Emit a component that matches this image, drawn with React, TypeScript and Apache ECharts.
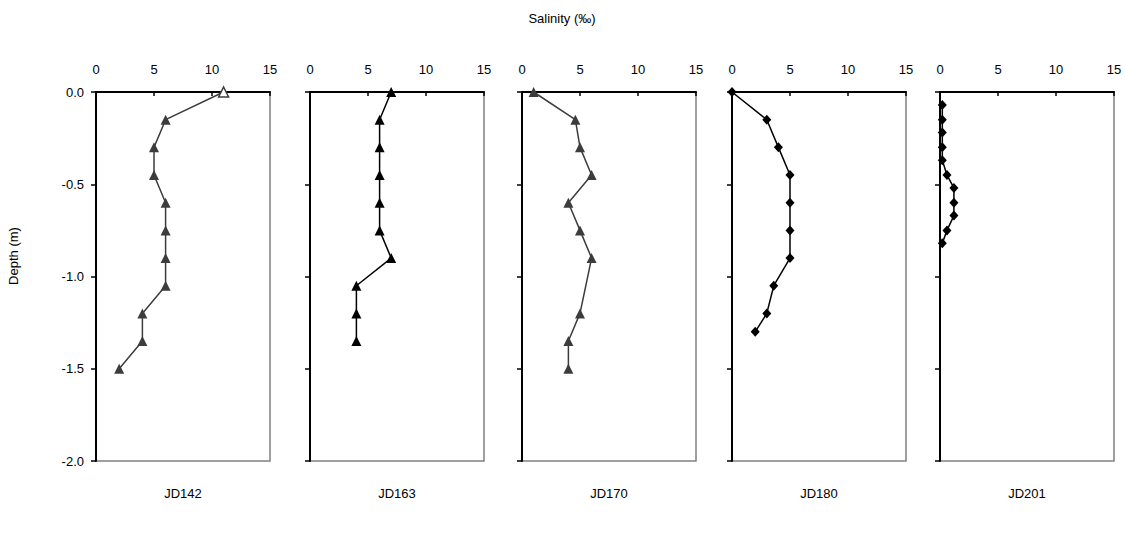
import React, { useEffect, useRef } from "react";
import * as echarts from "echarts";

// Sampling stations
const stations = ["JD142", "JD163", "JD170", "JD180", "JD201"];

// Depth (m, negative downward) and salinity (‰) for each profile
const depth142 = [0, -0.15, -0.3, -0.45, -0.6, -0.75, -0.9, -1.05, -1.2, -1.35, -1.5];
const sal142 = [11, 6, 5, 5, 6, 6, 6, 6, 4, 4, 2];

const depth163 = [0, -0.15, -0.3, -0.45, -0.6, -0.75, -0.9, -1.05, -1.2, -1.35];
const sal163 = [7, 6, 6, 6, 6, 6, 7, 4, 4, 4];

const depth170 = [0, -0.15, -0.3, -0.45, -0.6, -0.75, -0.9, -1.2, -1.35, -1.5];
const sal170 = [1, 4.6, 5, 6, 4, 5, 6, 5, 4, 4];

const depth180 = [0, -0.15, -0.3, -0.45, -0.6, -0.75, -0.9, -1.05, -1.2, -1.3];
const sal180 = [0, 3, 4, 5, 5, 5, 5, 3.6, 3, 2];

const depth201 = [-0.07, -0.15, -0.22, -0.3, -0.37, -0.45, -0.52, -0.6, -0.67, -0.75, -0.82];
const sal201 = [0.2, 0.2, 0.2, 0.2, 0.2, 0.6, 1.2, 1.2, 1.2, 0.6, 0.2];

const depthTicks = [0, -0.5, -1.0, -1.5, -2.0];
const salinityTicks = [0, 5, 10, 15];

const FONT = "'Liberation Sans', Arial, Helvetica, sans-serif";
const DARK = "#3c3c3c";
const BLACK = "#000000";

const pairs = (xs: number[], ys: number[]) => xs.map((x, i) => [x, ys[i]]);

const profiles = [
  { data: pairs(sal142, depth142), symbol: "triangle", color: DARK, size: 10, hollowFirst: true },
  { data: pairs(sal163, depth163), symbol: "triangle", color: BLACK, size: 10, hollowFirst: false },
  { data: pairs(sal170, depth170), symbol: "triangle", color: DARK, size: 10, hollowFirst: false },
  { data: pairs(sal180, depth180), symbol: "diamond", color: BLACK, size: [9, 10], hollowFirst: false },
  { data: pairs(sal201, depth201), symbol: "diamond", color: BLACK, size: [9, 10], hollowFirst: false },
];

const panelLefts = [96, 310, 522, 732, 940];
const panelWidth = 174;
const panelTop = 92;
const panelHeight = 369;

export default function App() {
  const ref = useRef<HTMLDivElement>(null);

  useEffect(() => {
    if (!ref.current) return;
    const chart = echarts.init(ref.current, null, { renderer: "svg" });

    const grid = panelLefts.map((left) => ({
      left,
      top: panelTop,
      width: panelWidth,
      height: panelHeight,
      show: true,
      borderColor: "#808080",
      borderWidth: 1.5,
      backgroundColor: "transparent",
    }));

    const xAxis = panelLefts.map((_, i) => ({
      type: "value",
      gridIndex: i,
      position: "top",
      min: salinityTicks[0],
      max: salinityTicks[salinityTicks.length - 1],
      interval: 5,
      axisLine: { show: true, lineStyle: { color: BLACK, width: 2 } },
      axisTick: { show: true, inside: true, length: 4, lineStyle: { color: BLACK, width: 1.5 } },
      axisLabel: { show: true, margin: 16, color: BLACK, fontSize: 13, fontFamily: FONT },
      splitLine: { show: false },
    }));

    const yAxis = panelLefts.map((_, i) => ({
      type: "value",
      gridIndex: i,
      min: depthTicks[depthTicks.length - 1],
      max: depthTicks[0],
      interval: 0.5,
      axisLine: { show: true, onZero: false, lineStyle: { color: BLACK, width: 2 } },
      axisTick: { show: true, inside: false, length: 5, lineStyle: { color: BLACK, width: 1.5 } },
      axisLabel: {
        show: i === 0,
        margin: 12,
        color: BLACK,
        fontSize: 13,
        fontFamily: FONT,
        formatter: (v: number) => v.toFixed(1),
      },
      splitLine: { show: false },
    }));

    const series = profiles.map((p, i) => ({
      type: "line",
      name: stations[i],
      xAxisIndex: i,
      yAxisIndex: i,
      data: p.data.map((d, j) =>
        p.hollowFirst && j === 0
          ? { value: d, itemStyle: { color: "#ffffff", borderColor: p.color, borderWidth: 1.5 } }
          : { value: d }
      ),
      symbol: p.symbol,
      symbolSize: p.size,
      showAllSymbol: true,
      clip: false,
      lineStyle: { color: p.color, width: 1.5 },
      itemStyle: { color: p.color },
      z: 5,
    }));

    const graphic: any[] = [
      {
        type: "text",
        x: 562,
        y: 18,
        style: {
          text: "Salinity (‰)",
          fill: BLACK,
          font: `13px ${FONT}`,
          textAlign: "center",
          textVerticalAlign: "middle",
        },
      },
      {
        type: "text",
        x: 13,
        y: 256,
        rotation: Math.PI / 2,
        style: {
          text: "Depth (m)",
          fill: BLACK,
          font: `13px ${FONT}`,
          textAlign: "center",
          textVerticalAlign: "middle",
        },
      },
      ...stations.map((s, i) => ({
        type: "text",
        x: panelLefts[i] + panelWidth / 2,
        y: 493,
        style: {
          text: s,
          fill: BLACK,
          font: `13px ${FONT}`,
          textAlign: "center",
          textVerticalAlign: "middle",
        },
      })),
    ];

    chart.setOption({
      animation: false,
      backgroundColor: "#ffffff",
      grid,
      xAxis,
      yAxis,
      series,
      graphic,
    });

    return () => chart.dispose();
  }, []);

  return (
    <div
      ref={ref}
      style={{ position: "fixed", left: 0, top: 0, width: 1125, height: 533 }}
    />
  );
}
